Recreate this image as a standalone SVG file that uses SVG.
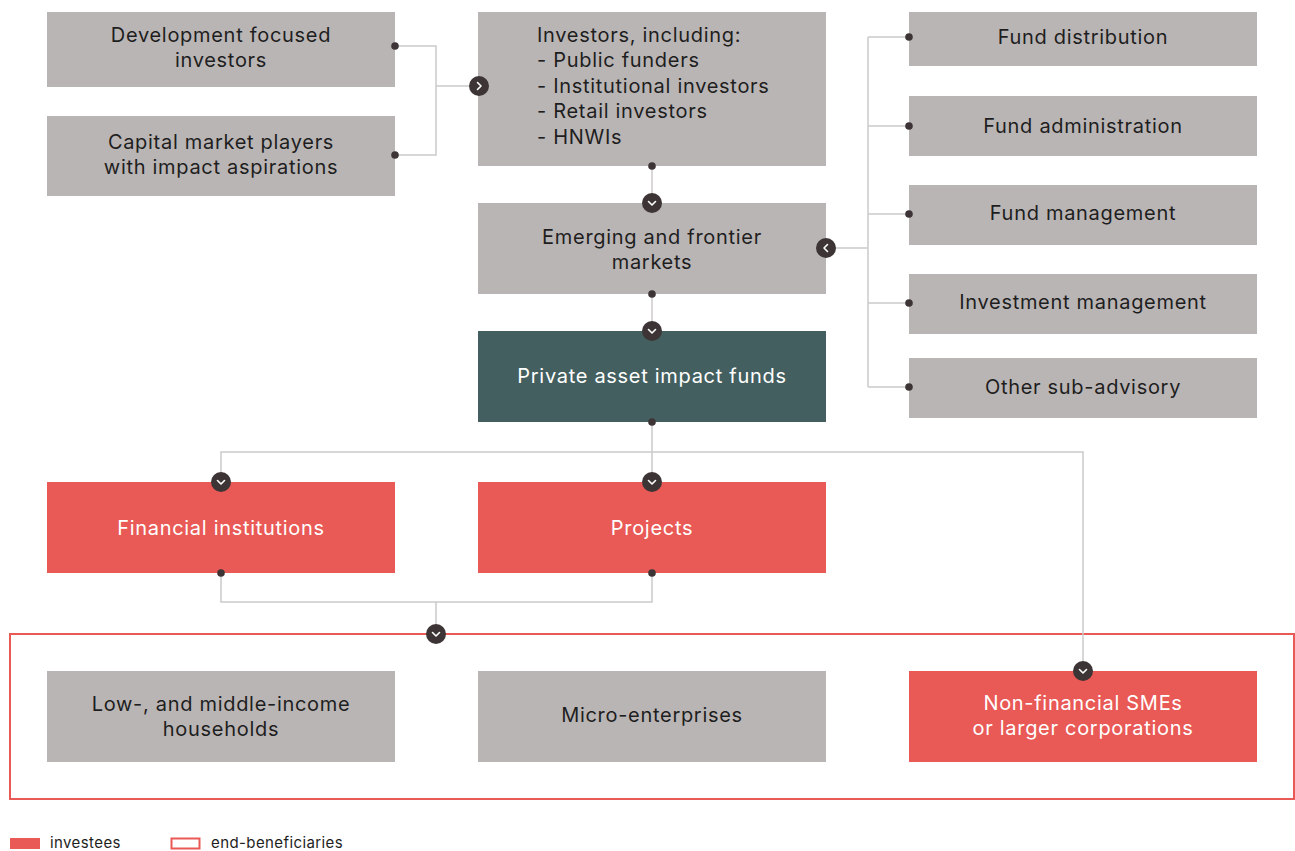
<svg xmlns="http://www.w3.org/2000/svg" width="1295" height="851" viewBox="0 0 1295 851">
  <style>
    .grey { fill: #bab5b5; }
    .red { fill: #e95955; }
    .teal { fill: #445f60; }
    text { font-family: Inter, "Open Sans", "Liberation Sans", sans-serif; font-size: 20px; letter-spacing: 0.7px; fill: #1e1e1e; }
    .c { text-anchor: middle; }
    .w { fill: #ffffff; }
    .lg { font-size: 15px; letter-spacing: 0.4px; }
    .line { fill: none; stroke: #cccaca; stroke-width: 1.5; }
    .dot { fill: #3d3535; }
    .knob { fill: #3d3535; }
    .chev { fill: none; stroke: #ffffff; stroke-width: 1.6; stroke-linecap: round; stroke-linejoin: round; }
  </style>
  <defs>
    <g id="down">
      <circle r="10" class="knob"/>
      <path d="M-3.5 -1.5 L0 2 L3.5 -1.5" class="chev"/>
    </g>
    <g id="right">
      <circle r="10" class="knob"/>
      <path d="M-1.5 -3.5 L2 0 L-1.5 3.5" class="chev"/>
    </g>
    <g id="left">
      <circle r="10" class="knob"/>
      <path d="M1.5 -3.5 L-2 0 L1.5 3.5" class="chev"/>
    </g>
  </defs>

  <!-- frame around the end-beneficiaries row -->
  <rect x="10" y="634" width="1284" height="165" fill="none" stroke="#e95955" stroke-width="2"/>

  <g id="dev-investors">
    <rect class="grey" x="47" y="12" width="348" height="75"/>
    <text class="c" x="221" y="42">Development focused</text>
    <text class="c" x="221" y="67">investors</text>
  </g>
  <g id="capital-market">
    <rect class="grey" x="47" y="116" width="348" height="80"/>
    <text class="c" x="221" y="149">Capital market players</text>
    <text class="c" x="221" y="174">with impact aspirations</text>
  </g>
  <g id="investors">
    <rect class="grey" x="478" y="12" width="348" height="154"/>
    <text x="537" y="42">Investors, including:</text>
    <text x="537" y="67">- Public funders</text>
    <text x="537" y="93">- Institutional investors</text>
    <text x="537" y="118">- Retail investors</text>
    <text x="537" y="144">- HNWIs</text>
  </g>
  <g id="emerging">
    <rect class="grey" x="478" y="203" width="348" height="91"/>
    <text class="c" x="652" y="244">Emerging and frontier</text>
    <text class="c" x="652" y="269">markets</text>
  </g>
  <g id="private-funds">
    <rect class="teal" x="478" y="331" width="348" height="91"/>
    <text class="c w" x="652" y="383">Private asset impact funds</text>
  </g>
  <g id="fund-distribution">
    <rect class="grey" x="909" y="12" width="348" height="54"/>
    <text class="c" x="1083" y="44">Fund distribution</text>
  </g>
  <g id="fund-administration">
    <rect class="grey" x="909" y="96" width="348" height="60"/>
    <text class="c" x="1083" y="133">Fund administration</text>
  </g>
  <g id="fund-management">
    <rect class="grey" x="909" y="185" width="348" height="60"/>
    <text class="c" x="1083" y="220">Fund management</text>
  </g>
  <g id="investment-management">
    <rect class="grey" x="909" y="274" width="348" height="60"/>
    <text class="c" x="1083" y="309">Investment management</text>
  </g>
  <g id="sub-advisory">
    <rect class="grey" x="909" y="358" width="348" height="60"/>
    <text class="c" x="1083" y="394">Other sub-advisory</text>
  </g>
  <g id="financial-institutions">
    <rect class="red" x="47" y="482" width="348" height="91"/>
    <text class="c w" x="221" y="535">Financial institutions</text>
  </g>
  <g id="projects">
    <rect class="red" x="478" y="482" width="348" height="91"/>
    <text class="c w" x="652" y="535">Projects</text>
  </g>
  <g id="households">
    <rect class="grey" x="47" y="671" width="348" height="91"/>
    <text class="c" x="221" y="711">Low-, and middle-income</text>
    <text class="c" x="221" y="736">households</text>
  </g>
  <g id="micro-enterprises">
    <rect class="grey" x="478" y="671" width="348" height="91"/>
    <text class="c" x="652" y="722">Micro-enterprises</text>
  </g>
  <g id="smes">
    <rect class="red" x="909" y="671" width="348" height="91"/>
    <text class="c w" x="1083" y="710">Non-financial SMEs</text>
    <text class="c w" x="1083" y="735">or larger corporations</text>
  </g>

  <g id="connectors">
    <path class="line" d="M395 46 H436 V155 H395 M436 86 H478"/>
    <path class="line" d="M652 166 V203"/>
    <path class="line" d="M652 294 V331"/>
    <path class="line" d="M826 248 H868 M868 37 V387 M868 37 H909 M868 126 H909 M868 214 H909 M868 303 H909 M868 387 H909"/>
    <path class="line" d="M652 422 V482 M221 482 V452 H1083 V671"/>
    <path class="line" d="M221 573 V602 H652 V573 M436 602 V634"/>
    <circle class="dot" cx="395" cy="46" r="3.8"/>
    <circle class="dot" cx="395" cy="155" r="3.8"/>
    <circle class="dot" cx="652" cy="166" r="3.8"/>
    <circle class="dot" cx="652" cy="294" r="3.8"/>
    <circle class="dot" cx="652" cy="422" r="3.8"/>
    <circle class="dot" cx="909" cy="37" r="3.8"/>
    <circle class="dot" cx="909" cy="126" r="3.8"/>
    <circle class="dot" cx="909" cy="214" r="3.8"/>
    <circle class="dot" cx="909" cy="303" r="3.8"/>
    <circle class="dot" cx="909" cy="387" r="3.8"/>
    <circle class="dot" cx="221" cy="573" r="3.8"/>
    <circle class="dot" cx="652" cy="573" r="3.8"/>
    <use href="#right" x="479" y="86"/>
    <use href="#down" x="652" y="203"/>
    <use href="#down" x="652" y="331"/>
    <use href="#left" x="826" y="248"/>
    <use href="#down" x="221" y="482"/>
    <use href="#down" x="652" y="482"/>
    <use href="#down" x="436" y="634"/>
    <use href="#down" x="1083" y="671"/>
  </g>

  <g id="legend">
    <rect class="red" x="10" y="838" width="30" height="11"/>
    <text class="lg" x="50" y="847.5">investees</text>
    <rect x="171.5" y="838.5" width="28" height="10" fill="none" stroke="#e95955" stroke-width="2"/>
    <text class="lg" x="211" y="847.5">end-beneficiaries</text>
  </g>
</svg>
